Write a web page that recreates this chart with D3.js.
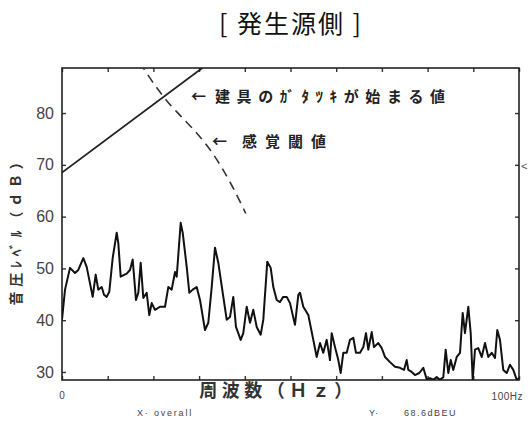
<!DOCTYPE html>
<html>
<head>
<meta charset="utf-8">
<script src="https://cdn.jsdelivr.net/npm/d3@7"></script>
<style>
  html, body { margin: 0; padding: 0; background: #fff; }
  svg { display: block; }
</style>
</head>
<body>
<div id="chart"></div>
<script>
// Noise spectrum at the source side (frequency in Hz, level in dB)
const specFreq = [0, 0.66, 1.75, 2.84, 3.57, 4.66, 5.40, 6.72, 7.37, 7.94, 8.69, 9.19, 9.78, 10.35, 11.09, 11.97, 12.32, 12.84, 14.16, 14.88,
  15.47, 16.19, 16.70, 17.22, 17.79, 18.53, 19.10, 19.63, 20.35, 21.44, 22.54, 23.26, 24.00, 24.73, 25.10, 25.97, 26.41, 27.29, 27.86, 28.60,
  29.47, 30.20, 31.29, 32.01, 32.76, 33.48, 34.20, 35.30, 36.04, 36.76, 37.48, 38.07, 39.10, 39.67, 40.42, 41.14, 41.86, 42.60, 43.48, 44.05,
  44.92, 45.67, 46.24, 46.98, 47.70, 48.40, 49.17, 49.89, 50.98, 51.71, 52.08, 52.80, 53.90, 54.99, 55.73, 56.46, 57.18, 57.92, 58.64, 59.02,
  59.74, 60.46, 60.98, 61.55, 62.30, 63.02, 63.74, 64.33, 65.21, 65.93, 66.52, 67.02, 67.77, 68.27, 69.21, 69.96, 70.68, 71.77, 72.87, 73.96,
  74.84, 75.43, 75.78, 76.52, 77.24, 78.18, 79.06, 79.80, 80.53, 81.25, 81.99, 82.71, 83.44, 83.96, 84.53, 85.06, 85.62, 86.37, 87.09, 87.68,
  88.18, 88.91, 89.43, 89.87, 90.37, 91.09, 91.84, 92.56, 93.28, 94.03, 94.75, 95.25, 95.84, 96.56, 97.31, 98.03, 98.75, 99.50, 100];
const specLevel = [40.1, 45.9, 50.1, 49.1, 49.7, 52.0, 50.3, 44.5, 48.8, 45.9, 46.4, 44.9, 44.5, 45.5, 52.0, 56.9, 54.9, 48.4, 49.0, 49.7,
  51.7, 43.9, 45.3, 51.1, 44.3, 45.3, 41.0, 43.3, 42.0, 42.6, 42.6, 46.4, 45.9, 49.3, 48.4, 58.8, 56.9, 50.3, 45.3, 45.9,
  46.4, 43.9, 38.1, 39.5, 46.4, 54.0, 51.1, 44.5, 40.1, 40.6, 44.5, 38.7, 36.2, 37.5, 42.6, 39.5, 42.0, 38.7, 37.2, 40.1,
  51.3, 50.1, 46.4, 43.9, 43.5, 44.5, 44.5, 43.3, 39.1, 44.9, 45.3, 42.6, 41.0, 36.2, 32.9, 35.6, 33.7, 36.2, 32.3, 37.5,
  34.8, 32.3, 29.8, 33.7, 33.7, 36.2, 36.6, 33.7, 33.7, 34.8, 37.5, 34.3, 37.7, 34.8, 35.6, 34.6, 32.9, 31.9, 31.0, 30.8,
  30.4, 32.3, 30.4, 30.0, 29.4, 29.8, 30.8, 28.6, 28.8, 28.5, 29.0, 28.5, 29.0, 34.3, 29.8, 32.3, 30.4, 32.9, 33.7, 41.4,
  37.5, 42.6, 37.5, 28.5, 34.3, 34.6, 32.9, 35.6, 32.9, 33.7, 32.7, 38.1, 36.2, 30.4, 29.8, 31.4, 30.4, 28.5, 28.8];

// Level at which fittings start to rattle (straight line)
const rattleFreq = [0, 31];
const rattleLevel = [68.5, 88.9];

// Perception threshold (dashed curve)
const threshFreq = [17.0, 20.0, 23.0, 26.0, 29.0, 32.0, 35.0, 38.0, 40.2];
const threshLevel = [89.8, 85.8, 82.3, 79.4, 76.6, 73.4, 69.4, 64.6, 60.6];

const yTicks = [30, 40, 50, 60, 70, 80];
const xTicks = [0, 10, 20, 30, 40, 50, 60, 70, 80, 90, 100];

const W = 528, H = 423;
const plotL = 62, plotR = 519, plotT = 68, plotB = 380;

const svg = d3.select("#chart").append("svg").attr("width", W).attr("height", H);

const x = d3.scaleLinear().domain([0, 100]).range([plotL, plotR]);
const y = d3.scaleLinear().domain([28.45, 88.7]).range([plotB, plotT]);

svg.append("defs").append("clipPath").attr("id", "plot")
  .append("rect").attr("x", plotL).attr("y", plotT).attr("width", plotR - plotL).attr("height", plotB - plotT);

// Title
svg.append("text")
  .attr("x", 291).attr("y", 33)
  .attr("text-anchor", "middle")
  .attr("font-family", "'Noto Sans CJK JP', 'Noto Sans', sans-serif")
  .attr("font-size", 25)
  .attr("letter-spacing", 2)
  .attr("fill", "#111")
  .text("[ 発生源側 ]");

// Axes with inward ticks on all four sides
const axisStyle = g => {
  g.select(".domain").remove();
  g.selectAll(".tick line").attr("stroke", "#333").attr("stroke-width", 1.4);
};

svg.append("g").attr("transform", `translate(${plotL},0)`)
  .call(d3.axisLeft(y).tickValues(yTicks).tickSizeInner(-4).tickSizeOuter(0).tickPadding(8))
  .call(axisStyle)
  .call(g => g.selectAll(".tick text")
    .attr("font-family", "'Liberation Sans', Arial, sans-serif")
    .attr("font-size", 16).attr("fill", "#444"));

svg.append("g").attr("transform", `translate(${plotR},0)`)
  .call(d3.axisRight(y).tickValues(yTicks.slice(1)).tickSizeInner(-4).tickSizeOuter(0).tickFormat(""))
  .call(axisStyle);

svg.append("g").attr("transform", `translate(0,${plotB})`)
  .call(d3.axisBottom(x).tickValues(xTicks).tickSizeInner(-4).tickSizeOuter(0).tickFormat(""))
  .call(axisStyle);

svg.append("g").attr("transform", `translate(0,${plotT})`)
  .call(d3.axisTop(x).tickValues(xTicks).tickSizeInner(-4).tickSizeOuter(0).tickFormat(""))
  .call(axisStyle);

// Frame
svg.append("rect")
  .attr("x", plotL).attr("y", plotT).attr("width", plotR - plotL).attr("height", plotB - plotT)
  .attr("fill", "none").attr("stroke", "#222").attr("stroke-width", 1.6);

const plot = svg.append("g").attr("clip-path", "url(#plot)");

// Rattle threshold line
plot.append("path")
  .datum(d3.zip(rattleFreq, rattleLevel))
  .attr("fill", "none").attr("stroke", "#222").attr("stroke-width", 1.8)
  .attr("d", d3.line().x(d => x(d[0])).y(d => y(d[1])));

// Perception threshold curve
plot.append("path")
  .datum(d3.zip(threshFreq, threshLevel))
  .attr("fill", "none").attr("stroke", "#333").attr("stroke-width", 1.6)
  .attr("stroke-dasharray", "9,6")
  .attr("d", d3.line().curve(d3.curveCatmullRom).x(d => x(d[0])).y(d => y(d[1])));

// Spectrum
plot.append("path")
  .datum(d3.zip(specFreq, specLevel))
  .attr("fill", "none").attr("stroke", "#111").attr("stroke-width", 2)
  .attr("stroke-linejoin", "round")
  .attr("d", d3.line().x(d => x(d[0])).y(d => y(d[1])));

// Annotations
const jp = "'Noto Sans CJK JP', sans-serif";
const note = (tx, ty, arrowX, label, ls) => {
  svg.append("text").attr("x", arrowX).attr("y", ty + 5)
    .attr("font-family", jp).attr("font-size", 15).attr("font-weight", "bold").attr("fill", "#222")
    .text("←");
  svg.append("text").attr("x", tx).attr("y", ty + 5)
    .attr("font-family", jp).attr("font-size", 15).attr("font-weight", "bold").attr("fill", "#222")
    .attr("letter-spacing", ls)
    .text(label);
};
note(215, 97, 191, "建具のｶﾞﾀﾂｷが始まる値", 6.6);
note(242, 142, 212, "感覚閾値", 8);

// Y axis title
svg.append("text")
  .attr("transform", "translate(21,228) rotate(-90)")
  .attr("text-anchor", "middle")
  .attr("font-family", jp).attr("font-size", 14).attr("font-weight", "bold").attr("fill", "#333")
  .attr("letter-spacing", 4.8)
  .text("音圧ﾚﾍﾞﾙ（ｄＢ）");

// X axis labels
svg.append("text").attr("x", 62).attr("y", 399).attr("text-anchor", "middle")
  .attr("font-family", "'Liberation Sans', Arial, sans-serif").attr("font-size", 10).attr("fill", "#444")
  .text("0");
svg.append("text").attr("x", 523).attr("y", 400).attr("text-anchor", "end")
  .attr("font-family", "'Liberation Sans', Arial, sans-serif").attr("font-size", 10).attr("fill", "#444")
  .attr("letter-spacing", 0.5)
  .text("100Hz");
svg.append("text").attr("x", 278).attr("y", 397).attr("text-anchor", "middle")
  .attr("font-family", jp).attr("font-size", 18).attr("font-weight", "bold").attr("fill", "#333")
  .attr("letter-spacing", 4.5)
  .text("周波数（Ｈｚ）");

// Readout line
svg.append("text").attr("x", 137).attr("y", 416)
  .attr("font-family", "'Liberation Sans', Arial, sans-serif").attr("font-size", 9).attr("fill", "#444")
  .attr("letter-spacing", 1.8)
  .text("X· overall");
svg.append("text").attr("x", 369).attr("y", 416)
  .attr("font-family", "'Liberation Sans', Arial, sans-serif").attr("font-size", 9).attr("fill", "#444")
  .text("Y·");
svg.append("text").attr("x", 404).attr("y", 416)
  .attr("font-family", "'Liberation Sans', Arial, sans-serif").attr("font-size", 9).attr("fill", "#444")
  .attr("letter-spacing", 1.5)
  .text("68.6dBEU");

// Clipped mark at the right edge
svg.append("text").attr("x", 521).attr("y", 170)
  .attr("font-family", "'Liberation Sans', Arial, sans-serif").attr("font-size", 11).attr("fill", "#555")
  .text("<");
</script>
</body>
</html>
